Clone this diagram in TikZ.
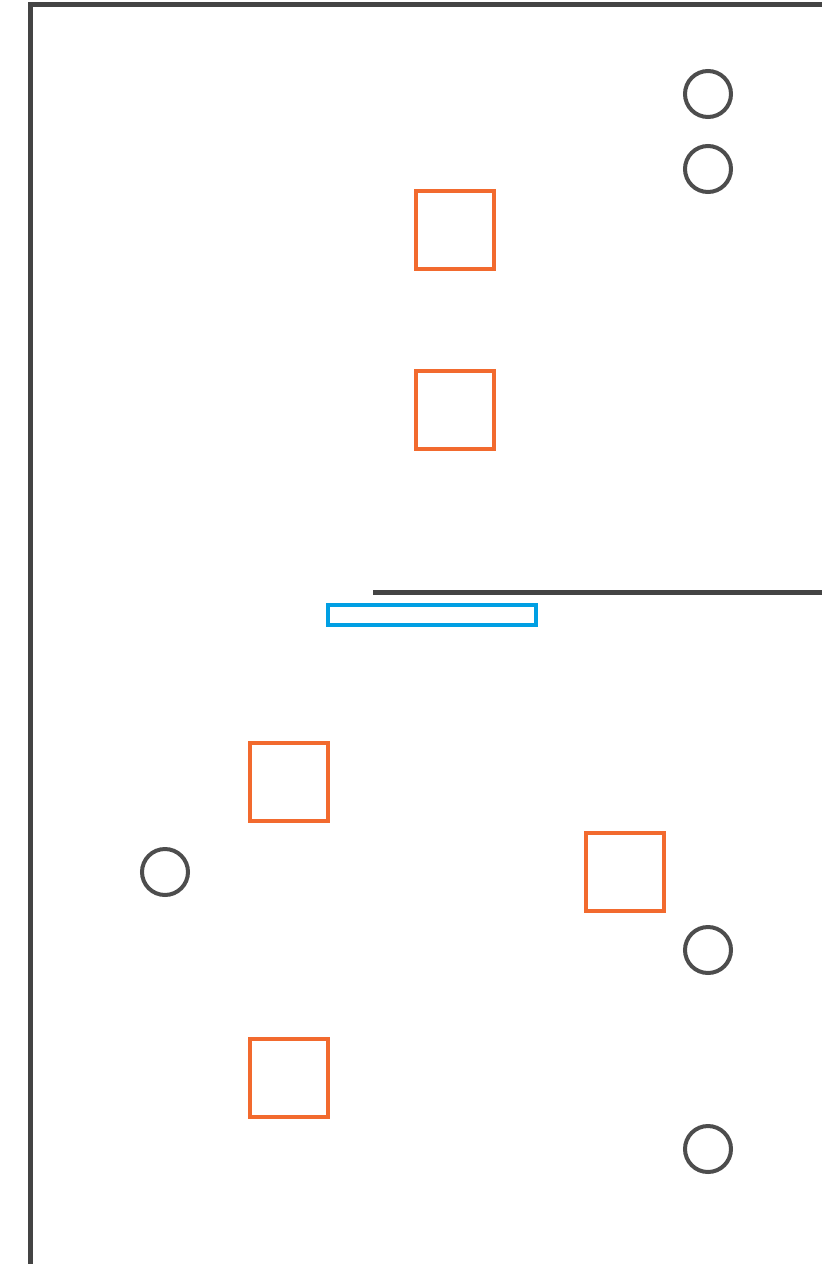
\documentclass[tikz,border=0pt]{standalone}
\usepackage{xcolor}
\usepackage{tikz}
\usetikzlibrary{positioning}

\definecolor{wallgray}{HTML}{444444}
\definecolor{fixgray}{HTML}{4D4D4D}
\definecolor{deskorange}{HTML}{F26A2E}
\definecolor{benchblue}{HTML}{009FE3}

\begin{document}
\begin{tikzpicture}[
  x=1pt, y=-1pt,
  wall/.style={draw=wallgray, line width=5pt},
  seat/.style={draw=fixgray, circle, line width=4pt, inner sep=0pt, minimum size=46pt},
  desk/.style={draw=deskorange, rectangle, line width=4pt, inner sep=0pt, minimum size=78pt},
  bench/.style={draw=benchblue, line width=4pt}
]
\useasboundingbox (0,0) rectangle (822,1264);

% walls
\draw[wall] (30.5,1264) -- (30.5,4.5) -- (822,4.5);
\draw[wall] (373,592.5) -- (822,592.5);

% desks
\node[desk] (deskA) at (455,230) {};
\node[desk] (deskB) at (455,410) {};
\node[desk] (deskC) at (289,782) {};
\node[desk] (deskD) at (625,872) {};
\node[desk] (deskE) at (289,1078) {};

% seats
\node[seat] (seatA) at (708,94) {};
\node[seat] (seatB) at (708,169) {};
\node[seat] (seatC) at (165,872) {};
\node[seat] (seatD) at (708,950) {};
\node[seat] (seatE) at (708,1149) {};

% bench
\draw[bench] (327.5,604.5) rectangle (536,625);
\end{tikzpicture}
\end{document}
